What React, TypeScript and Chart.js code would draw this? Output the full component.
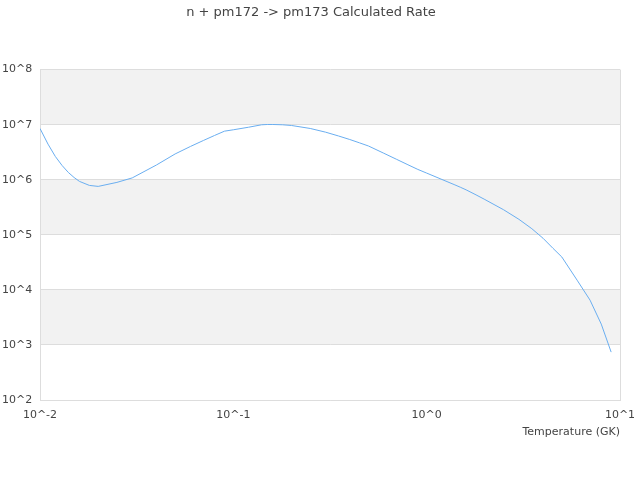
import React, { useEffect, useRef } from "react";
import { Chart, registerables } from "chart.js";

Chart.register(...registerables);

const chartTitle = "n + pm172 -> pm173 Calculated Rate";
const xAxisTitle = "Temperature (GK)";

// Temperature grid (GK)
const temperatures = [
  0.01, 0.011, 0.012, 0.013, 0.014, 0.015, 0.016, 0.018, 0.02, 0.025, 0.03,
  0.04, 0.05, 0.06, 0.07, 0.08, 0.09, 0.1, 0.12, 0.14, 0.15, 0.16, 0.18, 0.2,
  0.25, 0.3, 0.35, 0.4, 0.45, 0.5, 0.6, 0.7, 0.8, 0.9, 1.0, 1.2, 1.4, 1.5,
  1.6, 1.8, 2.0, 2.5, 3.0, 3.5, 4.0, 4.5, 5.0, 6.0, 7.0, 8.0, 9.0,
];

// Calculated rate values
const rates = [
  8.53e6, 4.43e6, 2.65e6, 1.82e6, 1.36e6, 1.1e6, 9.33e5, 7.89e5, 7.57e5,
  8.95e5, 1.08e6, 1.85e6, 2.94e6, 4.02e6, 5.16e6, 6.37e6, 7.62e6, 8.07e6,
  8.99e6, 9.95e6, 1.007e7, 1.007e7, 9.95e6, 9.66e6, 8.53e6, 7.31e6, 6.23e6,
  5.38e6, 4.67e6, 4.1e6, 3.03e6, 2.34e6, 1.87e6, 1.54e6, 1.32e6, 1.01e6,
  8.06e5, 7.26e5, 6.55e5, 5.31e5, 4.37e5, 2.85e5, 1.91e5, 1.29e5, 8.65e4,
  5.69e4, 3.96e4, 1.5e4, 6.5e3, 2.39e3, 7.41e2,
];

// Axis tick exponents and labels
const xTickExponents = [-2, -1, 0, 1];
const xTickLabels = ["10^-2", "10^-1", "10^0", "10^1"];
const yTickExponents = [2, 3, 4, 5, 6, 7, 8];
const yTickLabels = ["10^2", "10^3", "10^4", "10^5", "10^6", "10^7", "10^8"];
// shaded decade bands (low exponent of each band)
const bandLows = [3, 5, 7];

const FONT = "'DejaVu Sans', sans-serif";
const GRID = "#dddddd";
const BAND = "#f2f2f2";
const TEXT = "#444444";
const LINE = "#6aaef0";

const bandPlugin = {
  id: "bands",
  beforeDraw(chart: any) {
    const { ctx, chartArea, scales } = chart;
    const y = scales.y;
    ctx.save();
    ctx.fillStyle = BAND;
    for (const lo of bandLows) {
      const top = y.getPixelForValue(Math.pow(10, lo + 1));
      const bottom = y.getPixelForValue(Math.pow(10, lo));
      ctx.fillRect(chartArea.left, top, chartArea.right - chartArea.left, bottom - top);
    }
    ctx.restore();
  },
};

export default function App() {
  const canvasRef = useRef<HTMLCanvasElement | null>(null);

  useEffect(() => {
    const canvas = canvasRef.current;
    if (!canvas) return;
    const chart = new Chart(canvas, {
      type: "line",
      data: {
        datasets: [
          {
            label: "rate",
            data: temperatures.map((t, i) => ({ x: t, y: rates[i] })),
            borderColor: LINE,
            borderWidth: 1,
            pointRadius: 0,
            tension: 0,
            fill: false,
          },
        ],
      },
      options: {
        animation: false,
        responsive: false,
        devicePixelRatio: 1,
        layout: { padding: { left: 2, right: 20, top: 0, bottom: 0 } },
        plugins: {
          legend: { display: false },
          tooltip: { enabled: false },
          title: {
            display: true,
            text: chartTitle,
            color: TEXT,
            font: { family: FONT, size: 13, weight: "normal" },
            padding: { top: 5, bottom: 49 },
          },
        },
        scales: {
          x: {
            type: "logarithmic",
            min: 0.01,
            max: 10,
            afterBuildTicks: (scale: any) => {
              scale.ticks = xTickExponents.map((e) => ({ value: Math.pow(10, e) }));
            },
            afterFit: (scale: any) => {
              scale.height = 80;
              scale.paddingLeft = 0;
              scale.paddingRight = 0;
            },
            ticks: {
              color: TEXT,
              font: { family: FONT, size: 11 },
              padding: 9,
              maxRotation: 0,
              autoSkip: false,
              callback: (_v: any, i: number) => xTickLabels[i],
            },
            grid: {
              drawTicks: false,
              color: (ctx: any) =>
                ctx.index === xTickExponents.length - 1 ? GRID : "rgba(0,0,0,0)",
            },
            border: { color: GRID },
            title: {
              display: true,
              text: xAxisTitle,
              align: "end",
              color: TEXT,
              font: { family: FONT, size: 11 },
              padding: { top: 0, bottom: 41 },
            },
          },
          y: {
            type: "logarithmic",
            min: 100,
            max: 1e8,
            afterBuildTicks: (scale: any) => {
              scale.ticks = yTickExponents.map((e) => ({ value: Math.pow(10, e) }));
            },
            afterFit: (scale: any) => {
              scale.width = 38;
            },
            ticks: {
              color: TEXT,
              font: { family: FONT, size: 11 },
              crossAlign: "far",
              padding: 4,
              autoSkip: false,
              callback: (_v: any, i: number) => yTickLabels[i],
            },
            grid: { drawTicks: false, color: GRID },
            border: { color: GRID },
          },
        },
      },
      plugins: [bandPlugin],
    } as any);
    return () => chart.destroy();
  }, []);

  return (
    <div style={{ position: "absolute", left: 0, top: 0, width: 640, height: 480, background: "#fff" }}>
      <canvas ref={canvasRef} width={640} height={480} style={{ display: "block" }} />
    </div>
  );
}
